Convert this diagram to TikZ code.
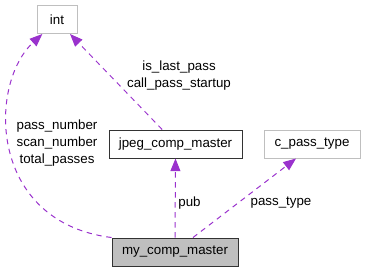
\documentclass[tikz,border=0pt]{standalone}
\usepackage{fontspec}
\setmainfont{Liberation Sans}
\usetikzlibrary{arrows.meta}
\definecolor{usepurple}{HTML}{9A32CD}
\definecolor{boxgray}{HTML}{BFBFBF}

\begin{document}
\begin{tikzpicture}[x=0.75pt,y=-0.75pt,
    >={Triangle[length=9.5pt,width=7.5pt]},
    cls/.style={draw=boxgray,fill=white,line width=0.75pt,inner sep=0pt,
      minimum height=21pt,font=\fontsize{10}{12}\selectfont},
    main/.style={cls,draw=black!80},
    uses/.style={->,usepurple,line width=0.75pt,dash pattern=on 4pt off 3.5pt},
    lbl/.style={font=\fontsize{10}{12.75}\selectfont,align=center,inner sep=0pt}]
  \useasboundingbox (0,0) rectangle (366,272);

  % classes
  \node[cls,minimum width=30pt](int) at (57,19.5){int};
  \node[main,minimum width=99.75pt](jcm) at (175.5,144){jpeg\_comp\_master};
  \node[cls,minimum width=72pt](cpt) at (312,144){c\_pass\_type};
  \node[main,fill=boxgray,minimum width=94.5pt](mcm) at (175,252){my\_comp\_master};

  % member links
  \draw[uses](mcm.north west) .. controls (-12,222) and (-12,84) .. ([xshift=-11pt]int.south);
  \draw[uses]([xshift=-10pt]jcm.north) -- ([xshift=9.75pt]int.south);
  \draw[uses](mcm.north) -- (jcm.south);
  \draw[uses]([xshift=13.5pt]mcm.north) -- ([xshift=-12pt]cpt.south);

  \node[lbl](lint) at (57,143){pass\_number\\scan\_number\\total\_passes};
  \node[lbl](ljcm) at (179,75.5){is\_last\_pass\\call\_pass\_startup};
  \node[lbl](lpub) at (189.5,203){pub};
  \node[lbl](lcpt) at (281,203){pass\_type};
\end{tikzpicture}
\end{document}
